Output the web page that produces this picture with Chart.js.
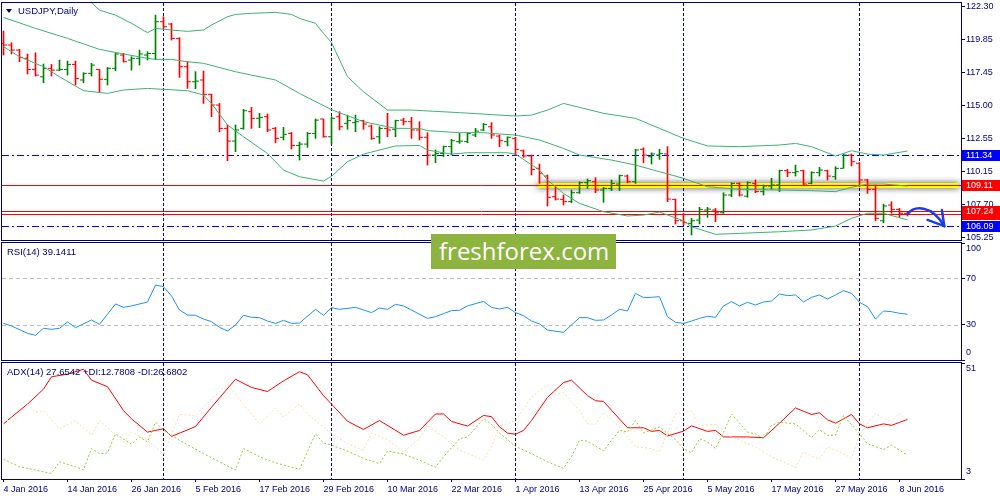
<!DOCTYPE html>
<html>
<head>
<meta charset="utf-8">
<title>USDJPY,Daily</title>
<script src="https://cdn.jsdelivr.net/npm/chart.js@4.4.1/dist/chart.umd.min.js"></script>
<style>
  body { margin: 0; background: #fff; }
  #wrap { position: relative; width: 1000px; height: 500px; overflow: hidden; background: #fff; }
  canvas { position: absolute; left: 0; }
  #cMain { top: 0; }
  #cRsi { top: 241px; }
  #cAdx { top: 361px; }
  .cap { position: absolute; color: #000080; font: 9.5px "Liberation Sans", Arial, sans-serif; line-height: 12px; white-space: nowrap; }
  #tri { position: absolute; left: 6px; top: 9px; width: 0; height: 0; border-left: 3px solid transparent; border-right: 3px solid transparent; border-top: 4px solid #000080; }
  #logo { position: absolute; left: 431px; top: 234px; width: 185px; height: 35px; background: #8db43f; }
  #logo span { position: absolute; left: 8px; top: 5px; color: #fff; font: 24px "Open Sans", sans-serif; line-height: 24px; }
</style>
</head>
<body>
<div id="wrap">
  <canvas id="cMain" width="1000" height="241"></canvas>
  <canvas id="cRsi" width="1000" height="120"></canvas>
  <canvas id="cAdx" width="1000" height="139"></canvas>
  <div id="tri"></div>
  <div class="cap" style="left:18px;top:5px">USDJPY,Daily</div>
  <div class="cap" style="left:7px;top:246px">RSI(14) 39.1411</div>
  <div class="cap" style="left:7px;top:366px">ADX(14) 27.6542 +DI:12.7808 -DI:26.6802</div>
  <div id="logo"><span>freshforex.com</span></div>
</div>
<script>
// axis ticks
const priceTicks = [122.30, 119.85, 117.45, 115.00, 112.55, 110.15, 107.70, 105.25];
const rsiTicks = [100, 70, 30, 0];
const rsiLevels = [70, 30];
const adxTicks = [51, 3];
const dateTicks = [0, 8, 16, 24, 32, 40, 48, 56, 64, 72, 80, 88, 96, 104, 112];
const dateLabels = ['4 Jan 2016', '14 Jan 2016', '26 Jan 2016', '5 Feb 2016', '17 Feb 2016', '29 Feb 2016',
  '10 Mar 2016', '22 Mar 2016', '1 Apr 2016', '13 Apr 2016', '25 Apr 2016', '5 May 2016',
  '17 May 2016', '27 May 2016', '8 Jun 2016'];
const monthStarts = [20, 41, 64, 85, 107];

// daily bars
const opens = [119.59,119.47,119.10,118.49,117.67,117.13,117.75,117.62,117.67,118.04,
116.89,117.38,117.67,116.94,117.75,118.73,118.36,118.49,118.73,118.85,
121.19,121.02,119.96,117.87,116.76,116.89,115.83,115.04,113.32,112.38,
113.32,114.55,114.06,114.18,113.32,112.66,112.95,112.06,112.16,112.95,
114.01,112.70,114.18,113.69,113.74,113.89,113.49,112.70,113.32,113.25,
113.93,113.81,113.20,112.66,111.35,111.47,111.97,112.34,112.34,112.83,
113.20,113.44,112.75,112.34,112.58,111.67,111.28,110.37,109.80,108.28,
108.08,107.91,108.57,109.31,109.38,108.77,108.89,109.21,109.80,109.38,
111.77,111.23,111.35,111.43,108.08,106.50,106.31,106.55,107.29,107.29,
107.09,108.40,109.26,108.32,109.26,108.65,109.06,109.14,110.20,110.05,
110.20,109.26,110.05,110.20,109.75,110.37,111.35,110.74,109.51,108.82,
106.50,107.66,107.34,107.05];
const highs = [120.50,119.64,119.15,118.81,118.90,118.07,118.04,118.36,118.29,118.29,
117.43,118.12,117.67,117.82,118.85,118.85,118.61,119.10,118.98,121.68,
121.56,121.07,120.01,118.24,117.50,117.55,115.85,115.16,113.57,113.57,
114.72,114.87,114.43,114.38,113.39,113.39,113.02,112.31,113.02,114.01,
114.01,114.18,114.55,114.30,114.30,113.93,113.57,113.44,114.43,113.93,
114.06,114.13,113.81,113.00,111.72,112.02,112.51,112.95,113.00,113.32,
113.69,113.74,112.83,112.70,112.66,111.72,111.35,110.69,109.88,109.01,
108.40,108.77,109.38,109.58,109.68,108.97,109.51,109.88,109.88,111.77,
111.89,111.52,111.77,111.97,108.10,107.05,106.68,107.49,107.49,107.41,
108.57,109.31,109.31,109.38,109.51,109.14,109.63,110.24,110.29,110.61,
110.24,110.12,110.44,110.24,110.49,111.43,111.43,110.79,109.56,109.14,
107.73,107.91,107.41,107.15];
const lows = [118.73,118.81,118.24,117.33,117.18,116.69,117.18,117.58,117.25,116.52,
116.69,117.18,115.98,116.52,117.58,118.21,117.62,117.99,118.36,118.41,
120.70,119.84,117.08,116.27,116.25,115.16,114.18,113.07,110.93,111.60,
113.25,113.32,113.37,113.07,112.26,112.46,111.79,110.98,111.92,112.58,
112.66,112.16,113.20,113.25,113.07,113.25,112.51,112.21,112.70,112.70,
113.57,112.58,112.46,110.61,110.79,111.23,111.35,112.21,112.26,112.70,
113.15,112.58,111.97,112.02,111.35,111.18,109.88,109.26,107.59,108.03,
107.66,107.83,108.52,108.89,108.57,107.86,108.72,108.72,109.31,109.26,
110.79,110.69,111.03,107.91,106.26,106.19,105.45,106.26,106.75,106.43,
107.05,108.28,108.32,108.23,108.57,108.40,108.82,108.65,109.75,109.80,
109.14,109.21,109.80,109.51,109.55,110.37,110.54,109.01,108.52,106.50,
106.36,107.05,106.75,106.85];
const closes = [119.47,119.10,118.56,117.67,117.25,117.75,117.62,117.67,118.04,117.01,
117.38,117.99,116.94,117.75,118.81,118.24,118.49,118.81,118.85,121.19,
120.82,119.96,117.87,116.76,116.81,115.83,115.04,113.32,112.38,113.20,
114.62,114.06,114.13,113.20,112.58,112.88,112.06,112.16,112.95,113.93,
112.70,114.06,113.44,113.89,113.81,113.64,112.58,113.32,113.20,113.89,
113.81,113.20,112.66,111.35,111.47,111.97,112.41,112.38,112.95,113.12,
113.61,112.83,112.41,112.66,111.77,111.28,110.29,110.00,108.23,108.10,
107.91,108.57,109.31,109.46,108.77,108.89,109.26,109.83,109.38,111.72,
111.35,111.43,111.47,108.10,106.50,106.36,106.50,107.34,107.36,107.09,
108.40,109.26,108.40,109.31,108.65,109.06,109.14,110.20,110.05,110.12,
109.21,110.05,110.24,109.80,110.37,111.35,110.86,109.51,108.82,106.68,
107.59,107.34,107.05,106.98];

// Bollinger bands [bar, price]
const bbUpper = [[0,124.6],[5,123.7],[9,122.95],[11,122.59],[12,122.05],[14,121.68],[16,121.07],[18,120.38],
[19,120.70],[21,120.58],[23,120.48],[25,120.58],[26,120.95],[28,121.56],[29,121.73],[31,121.81],[34,121.88],
[36,121.73],[37,121.44],[39,121.07],[40,120.33],[41,119.65],[43,117.13],[45,116.02],[48,114.67],[51,114.67],
[57,114.48],[64,114.23],[66,114.30],[68,114.67],[70,115.16],[72,114.87],[75,114.43],[79,114.06],[82,113.32],
[85,112.58],[88,112.02],[92,111.97],[97,112.09],[99,112.21],[101,111.97],[104,111.28],[106,111.67],
[108,111.42],[110,111.35],[113,111.65]];
const bbMiddle = [[0,121.51],[4,120.70],[8,119.96],[12,119.15],[15,118.81],[18,118.49],[19,118.41],[21,118.41],
[23,118.24],[25,118.12],[29,117.50],[31,117.25],[34,116.89],[37,115.90],[41,114.70],[45,113.81],[49,113.32],
[52,113.32],[53,113.15],[57,113.00],[60,113.00],[62,112.90],[64,112.83],[67,112.46],[70,111.84],[72,111.35],
[76,110.98],[79,110.61],[82,110.12],[85,109.63],[88,109.01],[92,108.82],[97,108.77],[101,108.72],[104,108.65],
[106,108.97],[108,109.21],[110,109.21],[113,109.06]];
const bbLower = [[0,119.35],[2,118.61],[5,117.87],[7,117.13],[10,116.10],[13,115.90],[15,116.15],[18,116.27],
[20,116.20],[23,116.10],[25,115.78],[26,115.16],[28,113.57],[30,112.70],[33,111.47],[35,110.24],[37,109.75],
[40,109.43],[41,109.78],[43,110.86],[45,111.42],[49,112.02],[52,112.06],[53,111.72],[56,111.42],[58,111.52],
[63,111.52],[64,111.42],[67,110.24],[68,109.51],[70,108.52],[72,107.78],[75,107.17],[78,106.85],[80,106.92],
[82,107.14],[85,106.50],[86,106.06],[89,105.50],[92,105.57],[97,105.69],[101,105.82],[104,106.11],
[106,106.68],[108,107.05],[110,107.05],[113,106.56]];

// RSI(14) [bar, value]
const rsi = [[0,31.3],[1,29.1],[3,22.8],[4,21.1],[5,27.1],[6,26.2],[7,27.1],[8,32.5],[9,27.6],[11,34.2],[12,30.5],
[14,47.9],[15,45.0],[16,46.2],[18,49.6],[19,64.1],[20,62.7],[21,54.7],[22,42.7],[23,38.5],[24,38.2],[25,35.0],
[26,32.8],[27,27.9],[28,24.8],[29,29.9],[30,38.2],[31,36.5],[32,36.2],[33,33.3],[34,31.3],[35,33.9],[36,31.3],
[37,31.6],[39,43.3],[40,38.2],[41,44.7],[42,43.3],[44,45.0],[46,40.5],[47,44.4],[48,43.3],[49,47.6],[50,46.2],
[53,35.6],[54,37.0],[56,42.2],[57,42.5],[58,46.2],[60,50.1],[61,45.0],[62,43.6],[63,45.0],[64,40.5],[65,37.9],
[66,33.3],[67,30.8],[68,25.6],[70,23.6],[72,36.2],[73,36.2],[74,33.9],[75,34.2],[76,38.5],[77,43.3],[78,41.9],
[79,57.0],[80,53.3],[81,53.6],[82,54.1],[83,37.0],[84,32.2],[85,31.3],[86,33.3],[87,35.6],[88,37.3],[89,36.5],
[90,46.2],[91,49.9],[92,46.2],[93,49.3],[94,47.0],[95,49.6],[96,50.4],[97,56.4],[98,55.0],[99,55.6],[100,49.6],
[101,53.6],[102,55.6],[103,52.1],[104,55.6],[105,59.3],[106,57.0],[107,49.3],[108,45.6],[109,35.0],[110,41.9],
[111,41.3],[112,39.9],[113,39.1]];

// ADX(14) [bar, value]
const adx = [[0,25.8],[1,28.6],[3,34.0],[5,40.2],[6,45.3],[8,46.4],[10,48.4],[11,43.9],[13,41.2],[15,31.3],[16,27.9],
[18,22.4],[20,23.8],[21,20.6],[24,24.7],[26,32.7],[29,44.3],[31,40.9],[33,39.2],[35,43.6],[37,47.4],[38,46.1],
[40,37.5],[41,34.0],[43,26.9],[45,23.5],[47,27.2],[50,21.1],[52,23.1],[54,29.9],[55,29.9],[56,26.8],[58,24.9],
[60,29.3],[61,28.8],[62,24.6],[63,22.0],[64,21.5],[65,23.1],[66,27.2],[68,36.8],[70,42.9],[71,43.9],[73,37.5],
[74,35.4],[75,35.1],[78,24.2],[80,24.2],[81,22.7],[82,23.1],[83,20.8],[85,22.8],[86,25.0],[88,22.7],[89,23.1],
[90,20.4],[93,20.4],[95,20.1],[97,26.1],[99,32.4],[101,29.7],[102,30.4],[103,27.5],[104,26.1],[106,29.7],
[107,25.8],[108,24.2],[110,25.8],[111,25.2],[113,27.65]];
const plusDi = [[0,11.1],[2,8.1],[4,6.7],[6,5.3],[7,10.1],[9,8.1],[10,6.7],[11,15.6],[12,13.5],[13,13.8],[14,21.7],
[16,17.4],[17,20.4],[18,18.3],[19,26.5],[20,23.1],[22,19.0],[25,13.5],[27,10.1],[29,6.7],[30,15.6],[32,12.2],
[34,9.7],[37,7.0],[39,21.7],[40,17.9],[41,17.0],[43,14.6],[45,11.5],[47,9.4],[48,14.6],[50,13.3],[52,10.8],
[54,7.8],[55,12.2],[57,19.7],[58,20.4],[60,27.9],[61,25.6],[62,22.0],[64,16.5],[66,13.5],[68,10.1],[70,7.4],
[71,12.2],[72,19.0],[73,18.7],[75,14.6],[76,19.0],[77,23.1],[78,22.4],[79,27.2],[80,22.0],[82,24.5],[84,19.3],
[85,15.6],[86,13.8],[87,19.7],[88,18.3],[89,15.6],[90,22.4],[91,29.9],[93,22.4],[94,21.7],[95,19.7],[96,25.2],
[97,26.5],[99,25.8],[101,20.1],[102,23.4],[103,21.1],[104,21.1],[105,29.3],[107,21.7],[108,17.6],[110,15.2],
[111,17.0],[113,12.78]];
const minusDi = [[0,28.6],[1,25.8],[3,34.0],[4,30.6],[5,31.3],[7,23.8],[9,27.2],[11,21.1],[12,27.2],[15,18.3],
[16,22.4],[18,19.0],[20,13.3],[22,29.7],[24,29.3],[26,36.1],[28,42.2],[30,34.0],[32,25.8],[34,32.4],[35,28.6],
[37,34.0],[38,29.9],[41,21.7],[43,17.6],[45,14.9],[46,22.0],[48,19.3],[50,14.2],[52,19.7],[53,25.2],[55,20.4],
[57,14.9],[60,10.8],[61,16.3],[62,24.5],[64,27.2],[66,36.8],[68,42.0],[69,37.9],[70,38.8],[72,31.3],[73,25.8],
[74,25.6],[75,30.6],[77,24.5],[79,16.3],[81,15.6],[82,14.2],[84,29.9],[86,31.3],[87,25.2],[89,25.6],[91,20.4],
[94,16.3],[96,12.2],[99,7.8],[100,14.2],[102,11.1],[103,16.3],[105,13.5],[106,11.5],[107,21.5],[109,30.2],
[110,27.9],[111,26.5],[112,30.2],[113,26.68]];

// chart objects
const levelRed = [106.98, 107.24, 109.11];
const levelBlue = [111.34, 106.09];
const highlightFrom = 66.75;
const highlightLevel = 109.11;
const arrowCurve = [[113.0,107.0],[113.8,107.6],[116.0,107.75],[117.6,106.1]];
const arrowHead = [[115.5,106.56],[117.6,106.1],[117.3,107.3]];

const navy = '#000080';
const upColor = '#008000';
const downColor = '#ff0000';
const axisFont = { family: 'Liberation Sans', size: 9 };
const xMin = -0.1875, xMax = 119.6875;

Chart.defaults.animation = false;
Chart.defaults.font.family = 'Liberation Sans';

const barColors = closes.map((c, i) => c >= opens[i] ? upColor : downColor);
const pts = arr => arr.map(p => ({ x: p[0], y: p[1] }));

function crisp(v) { return Math.round(v) + 0.5; }

const framePlugin = {
  id: 'frame',
  beforeDatasetsDraw(chart) {
    const { ctx, chartArea: a, scales } = chart;
    ctx.save();
    ctx.strokeStyle = navy;
    ctx.lineWidth = 1;
    ctx.setLineDash([3, 2]);
    monthStarts.forEach(m => {
      const x = crisp(scales.x.getPixelForValue(m) - 0.5);
      ctx.beginPath();
      ctx.moveTo(x, a.top);
      ctx.lineTo(x, a.bottom);
      ctx.stroke();
    });
    ctx.restore();
  },
  afterDraw(chart) {
    const { ctx, chartArea: a } = chart;
    ctx.save();
    ctx.strokeStyle = navy;
    ctx.lineWidth = 1;
    ctx.strokeRect(a.left - 0.5, a.top - 0.5, a.right - a.left + 1, a.bottom - a.top + 1);
    ctx.restore();
  }
};

const levelsPlugin = {
  id: 'levels',
  beforeDatasetsDraw(chart) {
    const { ctx, chartArea: a, scales } = chart;
    ctx.save();
    // yellow highlight
    const hy = scales.y.getPixelForValue(highlightLevel);
    const hx = scales.x.getPixelForValue(highlightFrom);
    ctx.shadowColor = 'rgba(0,0,0,0.75)';
    ctx.shadowBlur = 6;
    ctx.fillStyle = '#ffff00';
    ctx.fillRect(hx, Math.round(hy) - 2, a.right - 2 - hx, 5);
    ctx.restore();
    ctx.save();
    ctx.lineWidth = 1;
    ctx.strokeStyle = '#ff0000';
    levelRed.forEach(v => {
      const y = crisp(scales.y.getPixelForValue(v));
      ctx.beginPath(); ctx.moveTo(a.left, y); ctx.lineTo(a.right, y); ctx.stroke();
    });
    ctx.strokeStyle = '#0000ff';
    ctx.setLineDash([7, 3, 2, 3]);
    levelBlue.forEach(v => {
      const y = crisp(scales.y.getPixelForValue(v));
      ctx.beginPath(); ctx.moveTo(a.left, y); ctx.lineTo(a.right, y); ctx.stroke();
    });
    ctx.restore();
  },
  afterDatasetsDraw(chart) {
    const { ctx, scales } = chart;
    const p = q => [scales.x.getPixelForValue(q[0]), scales.y.getPixelForValue(q[1])];
    ctx.save();
    ctx.strokeStyle = '#1b3ee6';
    ctx.lineWidth = 2.5;
    ctx.lineCap = 'round';
    ctx.lineJoin = 'round';
    const c = arrowCurve.map(p);
    ctx.beginPath();
    ctx.moveTo(c[0][0], c[0][1]);
    ctx.bezierCurveTo(c[1][0], c[1][1], c[2][0], c[2][1], c[3][0], c[3][1]);
    ctx.stroke();
    const h = arrowHead.map(p);
    ctx.beginPath();
    ctx.moveTo(h[0][0], h[0][1]);
    ctx.lineTo(h[1][0], h[1][1]);
    ctx.lineTo(h[2][0], h[2][1]);
    ctx.stroke();
    ctx.restore();
  },
  afterDraw(chart) {
    const { ctx, chartArea: a, scales } = chart;
    ctx.save();
    ctx.font = '9px "Liberation Sans", Arial, sans-serif';
    ctx.textAlign = 'left';
    ctx.textBaseline = 'middle';
    const box = (v, color) => {
      const y = Math.round(scales.y.getPixelForValue(v));
      ctx.fillStyle = color;
      ctx.fillRect(a.right + 1, y - 5, 1000 - a.right, 11);
      ctx.fillStyle = '#ffffff';
      ctx.fillText(v.toFixed(2), a.right + 5, y + 0.5);
    };
    levelRed.forEach(v => box(v, '#ff0000'));
    levelBlue.forEach(v => box(v, '#0000ff'));
    ctx.restore();
  }
};

function sideLabels(values, levels) {
  return {
    id: 'sideLabels',
    beforeDatasetsDraw(chart) {
      const { ctx, chartArea: a, scales } = chart;
      ctx.save();
      ctx.strokeStyle = '#c0c0c0';
      ctx.lineWidth = 1;
      ctx.setLineDash([4, 3]);
      levels.forEach(v => {
        const y = crisp(scales.y.getPixelForValue(v));
        ctx.beginPath(); ctx.moveTo(a.left, y); ctx.lineTo(a.right, y); ctx.stroke();
      });
      ctx.restore();
    },
    afterDraw(chart) {
      const { ctx, chartArea: a, scales } = chart;
      ctx.save();
      ctx.font = '9px "Liberation Sans", Arial, sans-serif';
      ctx.fillStyle = navy;
      ctx.textAlign = 'left';
      ctx.textBaseline = 'middle';
      values.forEach(v => {
        let y = scales.y.getPixelForValue(v);
        y = Math.min(Math.max(y, a.top + 6), a.bottom - 7);
        ctx.fillText(String(v), a.right + 5, y);
      });
      ctx.restore();
    }
  };
}

function yAxis(min, max, ticks, showLabels) {
  return {
    type: 'linear', position: 'right', min: min, max: max,
    afterBuildTicks: s => { s.ticks = ticks.map(v => ({ value: v })); },
    afterFit: s => { s.width = 39; s.paddingTop = 0; s.paddingBottom = 0; },
    ticks: { display: showLabels, color: navy, font: axisFont, padding: 1, callback: v => Number(v).toFixed(2) },
    grid: { drawOnChartArea: false, drawTicks: true, tickLength: 4, color: navy, tickColor: navy },
    border: { display: false }
  };
}

function lineSet(data, color, dash) {
  return { type: 'line', data: pts(data), borderColor: color, borderWidth: 1, borderDash: dash || [],
    pointRadius: 0, tension: 0, fill: false };
}

const baseOpts = {
  responsive: false,
  events: [],
  plugins: { legend: { display: false }, tooltip: { enabled: false } }
};

// price panel
new Chart(document.getElementById('cMain'), {
  type: 'line',
  data: {
    datasets: [
      lineSet(bbUpper, '#3cb371'),
      lineSet(bbMiddle, '#3cb371'),
      lineSet(bbLower, '#3cb371'),
      {
        type: 'bar',
        data: highs.map((h, i) => ({ x: i, y: [lows[i], h] })),
        backgroundColor: barColors,
        barThickness: 1,
        borderWidth: 0
      },
      {
        type: 'scatter',
        data: opens.map((o, i) => ({ x: i - 0.25, y: o })),
        pointStyle: 'line', pointRadius: 1.5, pointBorderWidth: 1,
        pointBorderColor: barColors, borderColor: barColors, showLine: false
      },
      {
        type: 'scatter',
        data: closes.map((c, i) => ({ x: i + 0.25, y: c })),
        pointStyle: 'line', pointRadius: 1.5, pointBorderWidth: 1,
        pointBorderColor: barColors, borderColor: barColors, showLine: false
      }
    ]
  },
  options: Object.assign({}, baseOpts, {
    layout: { autoPadding: false, padding: { top: 3, left: 2, right: 0, bottom: 1 } },
    scales: {
      x: { type: 'linear', min: xMin, max: xMax, display: false, offset: false, grid: { offset: false } },
      y: yAxis(105.08, 122.573, priceTicks, true)
    }
  }),
  plugins: [framePlugin, levelsPlugin]
});

// RSI panel
new Chart(document.getElementById('cRsi'), {
  type: 'line',
  data: { datasets: [lineSet(rsi, '#1e90ff')] },
  options: Object.assign({}, baseOpts, {
    layout: { autoPadding: false, padding: { top: 2, left: 2, right: 0, bottom: 1 } },
    scales: {
      x: { type: 'linear', min: xMin, max: xMax, display: false },
      y: yAxis(0, 100, rsiTicks, false)
    }
  }),
  plugins: [framePlugin, sideLabels(rsiTicks, rsiLevels)]
});

// ADX panel
new Chart(document.getElementById('cAdx'), {
  type: 'line',
  data: {
    datasets: [
      lineSet(minusDi, '#f5deb3', [2, 2]),
      lineSet(plusDi, '#9acd32', [2, 2]),
      lineSet(adx, '#ff0000')
    ]
  },
  options: Object.assign({}, baseOpts, {
    layout: { autoPadding: false, padding: { top: 2, left: 2, right: 0, bottom: 0 } },
    scales: {
      x: {
        type: 'linear', min: xMin, max: xMax, position: 'bottom',
        afterBuildTicks: s => { s.ticks = dateTicks.map(v => ({ value: v })); },
        afterFit: s => { s.height = 21; s.paddingLeft = 0; s.paddingRight = 0; },
        ticks: { color: navy, font: axisFont, align: 'start', maxRotation: 0, autoSkip: false, padding: 2,
          callback: (v, i) => dateLabels[i] },
        grid: { drawOnChartArea: false, drawTicks: true, tickLength: 3, color: navy, tickColor: navy },
        border: { display: false }
      },
      y: yAxis(3, 51, adxTicks, false)
    }
  }),
  plugins: [framePlugin, sideLabels(adxTicks, [])]
});
</script>
</body>
</html>
